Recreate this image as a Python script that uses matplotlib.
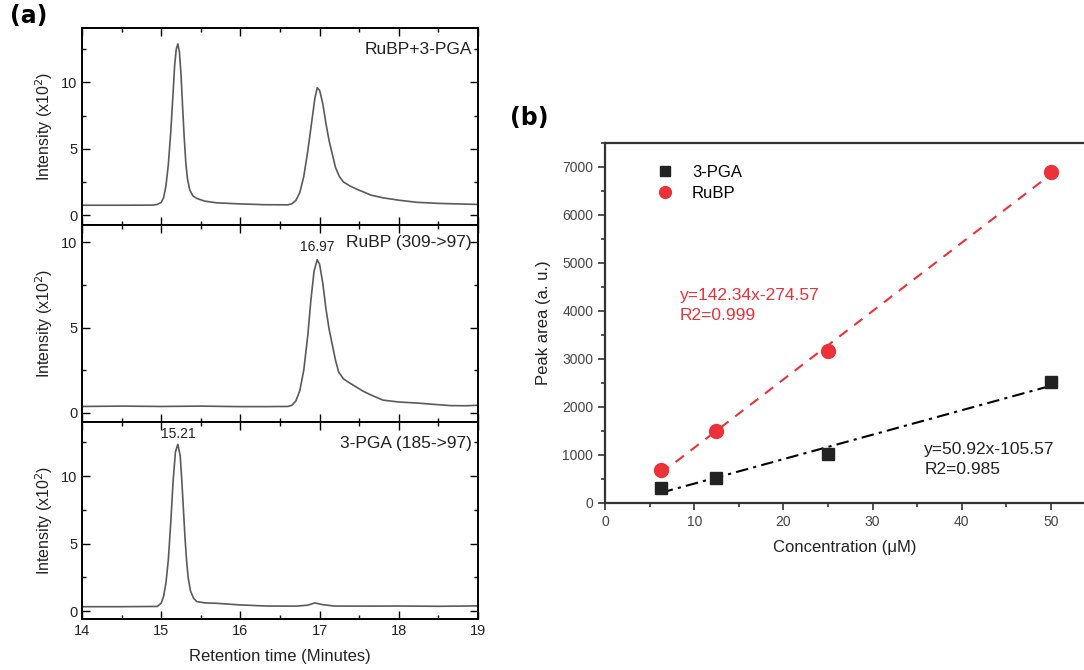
import numpy as np
import matplotlib
matplotlib.use("Agg")
import matplotlib.pyplot as plt
from matplotlib.ticker import MultipleLocator

plt.rcParams['font.family'] = ['Liberation Sans', 'DejaVu Sans']

# ---- panel (a): chromatograms ----
t_mix = [14.0, 14.5, 14.9, 14.95, 15.0, 15.03, 15.06, 15.09, 15.12, 15.15, 15.17, 15.19,
         15.21, 15.23, 15.25, 15.27, 15.29, 15.31, 15.33, 15.36, 15.4, 15.45, 15.55,
         15.7, 16.0, 16.3, 16.6, 16.65, 16.7, 16.75, 16.8, 16.85, 16.9, 16.94, 16.97,
         17.0, 17.04, 17.08, 17.12, 17.16, 17.2, 17.25, 17.3, 17.38, 17.47, 17.55,
         17.65, 17.8, 18.0, 18.23, 18.5, 18.8, 19.0]
i_mix = [0.74, 0.74, 0.75, 0.8, 0.95, 1.3, 2.2, 3.8, 6.2, 9.2, 11.3, 12.5,
         12.9, 12.3, 10.6, 8.2, 5.9, 4.0, 2.8, 1.9, 1.45, 1.25, 1.05,
         0.92, 0.84, 0.78, 0.77, 0.85, 1.1, 1.7, 2.9, 4.8, 7.0, 8.8, 9.6,
         9.4, 8.4, 6.9, 5.6, 4.6, 3.6, 2.9, 2.5, 2.2, 1.95, 1.75,
         1.5, 1.3, 1.12, 0.96, 0.88, 0.83, 0.8]

t_rubp = [14.0, 14.5, 15.0, 15.5, 16.0, 16.3, 16.6, 16.65, 16.7, 16.75, 16.8, 16.85,
          16.89, 16.93, 16.97, 17.0, 17.04, 17.08, 17.12, 17.16, 17.2, 17.24, 17.3,
          17.38, 17.47, 17.55, 17.65, 17.8, 18.0, 18.23, 18.45, 18.65, 18.85, 19.0]
i_rubp = [0.38, 0.4, 0.38, 0.4, 0.37, 0.37, 0.38, 0.45, 0.7, 1.3, 2.5, 4.5,
          6.6, 8.3, 8.97, 8.7, 7.6, 6.1, 4.9, 4.0, 3.1, 2.4, 2.0,
          1.75, 1.5, 1.27, 1.05, 0.75, 0.64, 0.58, 0.5, 0.43, 0.42, 0.45]

t_pga = [14.0, 14.5, 14.95, 15.0, 15.03, 15.06, 15.09, 15.12, 15.15, 15.18, 15.21,
         15.24, 15.26, 15.28, 15.3, 15.32, 15.34, 15.37, 15.41, 15.45, 15.55, 15.7,
         16.0, 16.33, 16.7, 16.85, 16.94, 17.03, 17.18, 17.5, 18.0, 18.5, 19.0]
i_pga = [0.34, 0.34, 0.36, 0.6, 1.1, 2.1, 3.8, 6.5, 9.6, 11.8, 12.35,
         11.5, 9.7, 7.6, 5.5, 3.8, 2.5, 1.5, 0.95, 0.72, 0.62, 0.59,
         0.47, 0.39, 0.38, 0.45, 0.62, 0.5, 0.39, 0.38, 0.39, 0.37, 0.4]

traces = [(t_mix, i_mix, "RuBP+3-PGA", (-0.75, 14.1)),
          (t_rubp, i_rubp, "RuBP (309->97)", (-0.53, 11.0)),
          (t_pga, i_pga, "3-PGA (185->97)", (-0.57, 14.0))]

# ---- panel (b): calibration ----
conc = [6.25, 12.5, 25, 50]
area_pga = [320, 520, 1010, 2510]
area_rubp = [690, 1490, 3170, 6880]
fit_pga = (50.92, -105.57)
fit_rubp = (142.34, -274.57)

red = "#ec3138"
tick_col = "#444444"

fig = plt.figure(figsize=(10.84, 6.70), dpi=100)

W, H = 1084.0, 670.0
ax_left, ax_right = 82 / W, 478 / W
tops = [28, 225, 422, 619]
axes_a = []
for k, (t, inten, name, ylim) in enumerate(traces):
    top, bot = tops[k], tops[k + 1]
    ax = fig.add_axes([ax_left, 1 - bot / H, ax_right - ax_left, (bot - top) / H])
    ax.plot(t, inten, color="#5a5a5a", lw=1.2)
    ax.set_xlim(14, 19)
    ax.set_ylim(*ylim)
    ax.set_yticks([0, 5, 10])
    ax.yaxis.set_minor_locator(MultipleLocator(2.5))
    ax.xaxis.set_minor_locator(MultipleLocator(0.5))
    ax.tick_params(which='both', direction='in', top=True, right=True,
                   labelsize=10.5, labelcolor="#222222", width=1.0)
    ax.tick_params(which='major', length=6)
    ax.tick_params(which='minor', length=3)
    for s in ax.spines.values():
        s.set_linewidth(1.4)
    ax.set_ylabel(r"Intensity (x10$^2$)", fontsize=11.5, color="#222222", labelpad=4)
    if k < 2:
        ax.tick_params(labelbottom=False)
    axes_a.append(ax)

axes_a[0].text(0.985, 0.93, "RuBP+3-PGA", transform=axes_a[0].transAxes,
               ha='right', va='top', fontsize=12.5, color="#222222")
axes_a[1].text(0.985, 0.95, "RuBP (309->97)", transform=axes_a[1].transAxes,
               ha='right', va='top', fontsize=12.5, color="#222222")
axes_a[1].text(16.97, 9.3, "16.97", ha='center', va='bottom', fontsize=10, color="#222222")
axes_a[2].text(0.985, 0.93, "3-PGA (185->97)", transform=axes_a[2].transAxes,
               ha='right', va='top', fontsize=12.5, color="#222222")
axes_a[2].text(15.21, 12.6, "15.21", ha='center', va='bottom', fontsize=10, color="#222222")
axes_a[2].set_xlabel("Retention time (Minutes)", fontsize=12, color="#222222", labelpad=8)

fig.text(10 / W, 1 - 28 / H, "(a)", fontsize=17, fontweight='bold',
         family=['DejaVu Sans'], va='bottom')

# panel (b)
axb = fig.add_axes([605 / W, 1 - 503 / H, 1 - 605 / W, (503 - 142.7) / H])
xx = np.array([conc[0], conc[-1]])
axb.plot(xx, fit_rubp[0] * xx + fit_rubp[1], color=red, ls=(0, (5, 4)), lw=1.5)
axb.plot(xx, fit_pga[0] * xx + fit_pga[1], color="black", ls=(0, (6, 2.5, 1.5, 2.5)), lw=1.5)
axb.plot(conc, area_pga, 's', color="#222222", ms=9, ls='none', label="3-PGA")
axb.plot(conc, area_rubp, 'o', color=red, ms=10, ls='none', label="RuBP")
axb.set_xlim(0, 53.7)
axb.set_ylim(0, 7500)
axb.set_yticks(range(0, 7001, 1000))
axb.xaxis.set_major_locator(MultipleLocator(10))
axb.xaxis.set_minor_locator(MultipleLocator(5))
axb.yaxis.set_minor_locator(MultipleLocator(500))
axb.tick_params(which='both', direction='out', labelsize=10, labelcolor=tick_col,
                width=1.2, color="#333333")
axb.tick_params(which='major', length=5)
axb.tick_params(which='minor', length=3)
axb.spines['right'].set_visible(False)
for s in ['left', 'bottom', 'top']:
    axb.spines[s].set_linewidth(1.6)
    axb.spines[s].set_color("#333333")
axb.set_xlabel("Concentration (\u03bcM)", fontsize=12, color="#222222", labelpad=8)
axb.set_ylabel("Peak area (a. u.)", fontsize=12, color="#222222", labelpad=8)
leg = axb.legend(loc='upper left', bbox_to_anchor=(0.06, 0.98), frameon=False,
                 fontsize=12, handletextpad=0.6, labelspacing=0.35, markerscale=0.85)
axb.text(8.4, 4480, "y=142.34x-274.57\nR2=0.999", color=red, fontsize=12.5,
         va='top', linespacing=1.45)
axb.text(35.8, 1270, "y=50.92x-105.57\nR2=0.985", color="#222222", fontsize=12.5,
         va='top', linespacing=1.45)

fig.text(510 / W, 1 - 130 / H, "(b)", fontsize=17, fontweight='bold',
         family=['DejaVu Sans'], va='bottom')

fig.savefig("out.png", dpi=100)
